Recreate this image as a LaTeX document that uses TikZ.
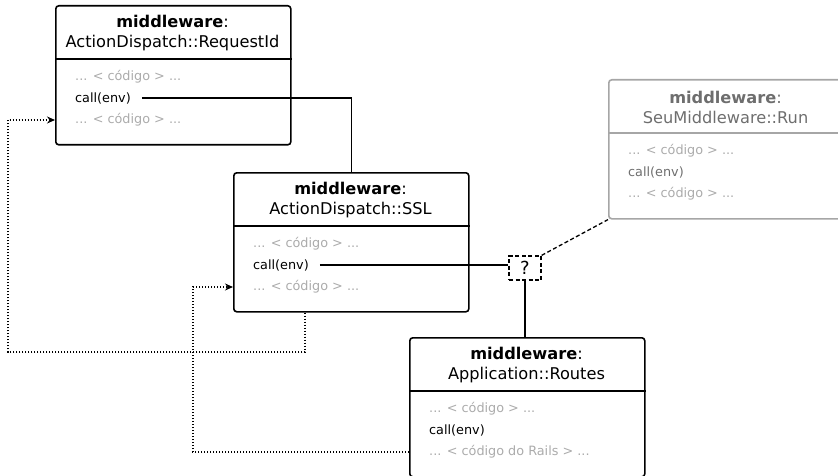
\documentclass[tikz,border=0pt]{standalone}
\usepackage{fontspec}
\setmainfont{DejaVu Sans}
\usetikzlibrary{arrows.meta,positioning}
\definecolor{codegray}{HTML}{ABABAB}
\definecolor{fadeline}{HTML}{A6A6A6}
\definecolor{fadetext}{HTML}{6E6E6E}
\tikzset{
    stack diagram/.style = {x=1pt, y=-1pt, >={Stealth[length=8pt, width=7pt]}},
    umlbox/.style        = {draw, line width=1.6pt, rounded corners=3pt,
                            anchor=north west, inner sep=0pt,
                            minimum width=235pt, minimum height=139pt},
    divider/.style       = {line width=1.3pt},
    title/.style         = {align=center, inner sep=0pt,
                            font=\fontsize{16.2}{20}\selectfont},
    code/.style          = {anchor=west, inner sep=0pt, text=codegray,
                            font=\fontsize{12.8}{15}\selectfont},
    call/.style          = {code, text=black},
    main box/.style      = {},
    faded box/.style     = {draw=fadeline},
    main title/.style    = {},
    faded title/.style   = {text=fadetext},
    main call/.style     = {},
    faded call/.style    = {text=fadetext},
    wire/.style          = {line width=1.3pt},
    dashed wire/.style   = {wire, dash pattern=on 4pt off 2.5pt},
    query/.style         = {dashed wire, draw, minimum width=32pt,
                            minimum height=24pt, inner sep=0pt,
                            font=\fontsize{18}{20}\selectfont},
    return/.style        = {->, line width=1.4pt,
                            dash pattern=on 1.4pt off 1.6pt}
}

\begin{document}
\begin{tikzpicture}[stack diagram]
\clip (0,0) rectangle (838,476);

% One UML-like box per middleware in the stack.
\foreach \name/\x/\y/\kind/\tail/\tone in {
    rid/55/5/ActionDispatch::RequestId/código/main,
    ssl/233/172/ActionDispatch::SSL/código/main,
    seu/608/79/SeuMiddleware::Run/código/faded,
    routes/409/337/Application::Routes/código do Rails/main} {
    \node[umlbox, \tone\space box] (\name) at (\x,\y) {};
    \node[title, \tone\space title] (\name-title) at (\x+117.5,\y+28)
        {\textbf{middleware}:\\\kind};
    \draw[divider, \tone\space box] ([yshift=-54pt]\name.north west)
        -- ([yshift=-54pt]\name.north east);
    \node[code] (\name-head) at (\x+20,\y+72) {... < código > ...};
    \node[call, \tone\space call] (\name-call) at (\x+20,\y+93) {call(env)};
    \node[code] (\name-tail) at (\x+20,\y+115) {... < \tail\space> ...};
}

\node[query] (query) at (525,268) {?};

\draw[wire] ([xshift=11pt]rid-call.east) -| (ssl.north);
\draw[wire] ([xshift=11pt]ssl-call.east) -- (ssl-call.east -| query.west);
\draw[dashed wire] (query.north east) -- (seu.south west);
\draw[wire] (query.south) -- (query.south |- routes.north);

% Returning control back up the stack.
\coordinate (rid-return) at (8,352);
\coordinate (ssl-return) at (193,452);
\draw[return] ([xshift=72pt]ssl.south west) |- (rid-return)
    |- (rid.west |- rid-tail);
\draw[return] (routes.west |- routes-tail) -- (ssl-return)
    |- (ssl.west |- ssl-tail);

\end{tikzpicture}
\end{document}
